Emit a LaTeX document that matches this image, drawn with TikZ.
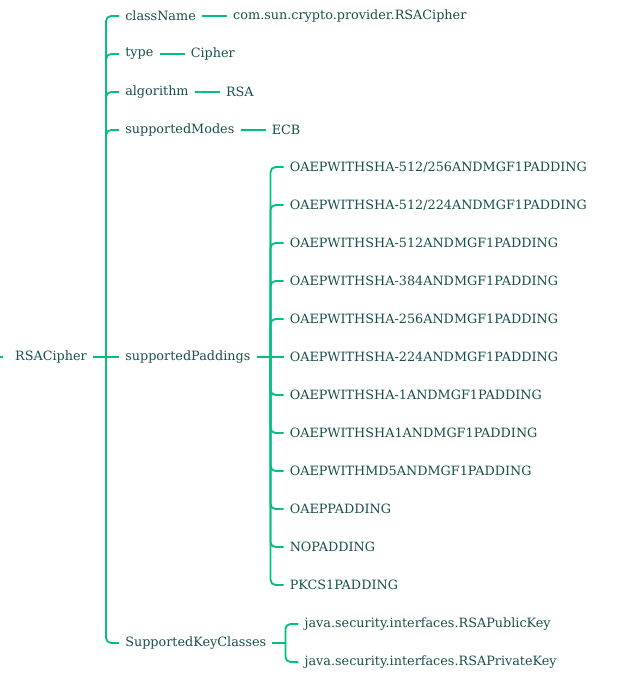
\documentclass[tikz,border=0pt]{standalone}
\usepackage{fontspec}
\setmainfont{DejaVu Serif}
\usetikzlibrary{positioning,calc}
\definecolor{mmline}{HTML}{00BF7F}
\definecolor{mmtext}{HTML}{165048}
\tikzset{
  item/.style   = {inner xsep=6pt,inner ysep=2pt,anchor=west,text=mmtext,font=\fontsize{12.8}{15}\selectfont},
  link/.style   = {draw=mmline,line width=1.8pt},
  branch/.style = {link,rounded corners=5pt},
}

\begin{document}
\begin{tikzpicture}[x=1pt,y=-1pt,node distance=25pt]
\useasboundingbox (0,0) rectangle (622,685);
% root and its fork
\coordinate (edge) at (0,357);
\node[item] (root) at (9,357) {RSACipher};
\coordinate (rootfork) at ([xshift=13pt]root.east);
\draw[link] (edge) -- ([xshift=-6pt]root.west);
\draw[link] (root.east) -- (rootfork);

% first level
\node[item] (clsname) at ($(rootfork)+(13,-341)$) {className};
\node[item] (type)    at ($(rootfork)+(13,-303)$) {type};
\node[item] (algo)    at ($(rootfork)+(13,-265)$) {algorithm};
\node[item] (modes)   at ($(rootfork)+(13,-227)$) {supportedModes};
\node[item] (pads)    at ($(rootfork)+(13,0)$)    {supportedPaddings};
\node[item] (keys)    at ($(rootfork)+(13,286)$)  {SupportedKeyClasses};
\foreach \n in {clsname,type,algo,modes,keys}
  \draw[branch] (rootfork) |- (\n.west);
\draw[link] (rootfork) -- (pads.west);

% values
\node[item] (clsval)   [right=of clsname] {com.sun.crypto.provider.RSACipher};
\node[item] (typeval)  [right=of type]    {Cipher};
\node[item] (algoval)  [right=of algo]    {RSA};
\node[item] (modesval) [right=of modes]   {ECB};
\draw[link] (clsname) -- (clsval);
\draw[link] (type) -- (typeval);
\draw[link] (algo) -- (algoval);
\draw[link] (modes) -- (modesval);

% paddings
\coordinate (padsfork) at ([xshift=14pt]pads.east);
\draw[link] (pads.east) -- (padsfork);
\foreach \pad [count=\i] in {OAEPWITHSHA-512/256ANDMGF1PADDING,OAEPWITHSHA-512/224ANDMGF1PADDING,
    OAEPWITHSHA-512ANDMGF1PADDING,OAEPWITHSHA-384ANDMGF1PADDING,OAEPWITHSHA-256ANDMGF1PADDING,
    OAEPWITHSHA-224ANDMGF1PADDING,OAEPWITHSHA-1ANDMGF1PADDING,OAEPWITHSHA1ANDMGF1PADDING,
    OAEPWITHMD5ANDMGF1PADDING,OAEPPADDING,NOPADDING,PKCS1PADDING}{
  \node[item] (pad\i) at ($(padsfork)+(13,{(\i-6)*38})$) {\pad};
  \ifnum\i=6 \draw[link] (padsfork) -- (pad\i.west);
  \else \draw[branch] (padsfork) |- (pad\i.west); \fi
}

% key classes
\coordinate (keysfork) at ([xshift=13pt]keys.east);
\draw[link] (keys.east) -- (keysfork);
\node[item] (pubkey)  at ($(keysfork)+(13,-19)$) {java.security.interfaces.RSAPublicKey};
\node[item] (privkey) at ($(keysfork)+(13,19)$)  {java.security.interfaces.RSAPrivateKey};
\draw[branch] (keysfork) |- (pubkey.west);
\draw[branch] (keysfork) |- (privkey.west);
\end{tikzpicture}
\end{document}
